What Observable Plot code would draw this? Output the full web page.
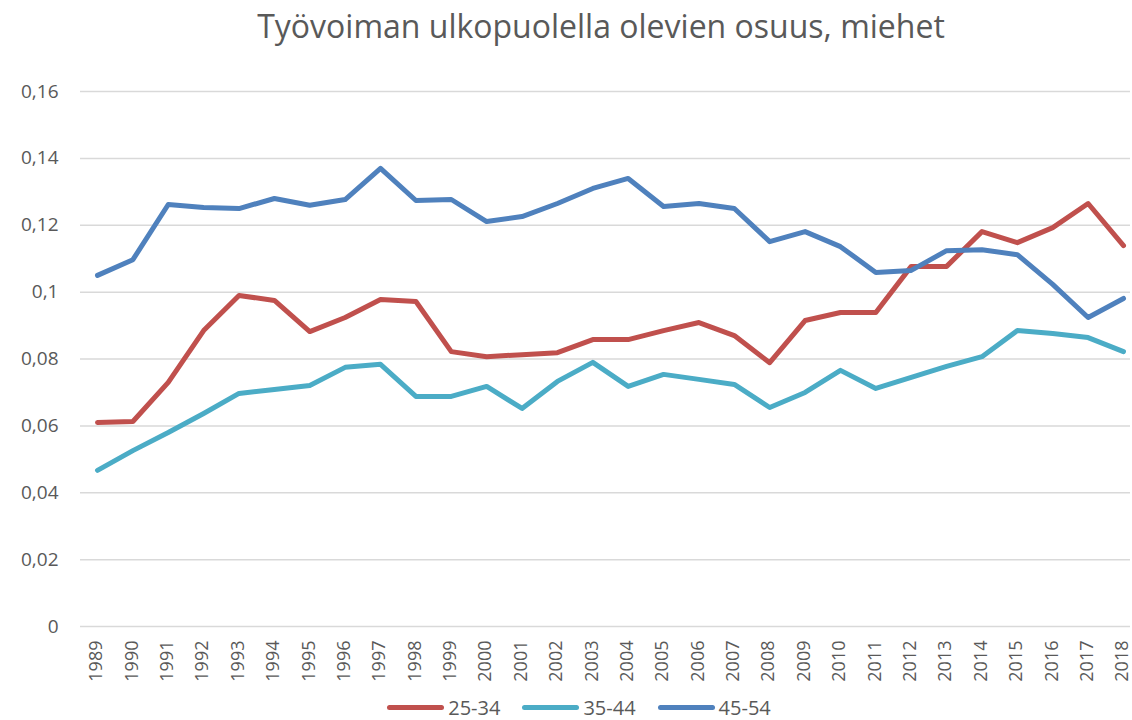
<!DOCTYPE html>
<html>
<head>
<meta charset="utf-8">
<script src="https://cdn.jsdelivr.net/npm/d3@7"></script>
<script src="https://cdn.jsdelivr.net/npm/@observablehq/plot@0.6"></script>
<style>
  body { margin: 0; background: #fff; font-family: "Open Sans", "Liberation Sans", sans-serif; }
  #wrap { width: 1132px; height: 720px; position: relative; overflow: hidden; }
  #title { height: 55px; line-height: 52px; padding-left: 70px; text-align: center; font-size: 32px; color: #595959; }
  #legend { display: flex; justify-content: center; align-items: center; padding-left: 26px; height: 24px; margin-top: 0px; font-size: 20px; color: #595959; }
  .item { display: flex; align-items: center; margin: 0 11px; }
  .sw { width: 57px; height: 5px; border-radius: 3px; margin-right: 4px; }
</style>
</head>
<body>
<div id="wrap">
  <div id="title">Työvoiman ulkopuolella olevien osuus, miehet</div>
  <div id="chart"></div>
  <div id="legend"></div>
</div>
<script>
const years = [1989,1990,1991,1992,1993,1994,1995,1996,1997,1998,1999,2000,2001,2002,2003,2004,2005,2006,2007,2008,2009,2010,2011,2012,2013,2014,2015,2016,2017,2018];
const seriesNames = ["25-34", "35-44", "45-54"];
const seriesColors = ["#C0504D", "#4BACC6", "#4F81BD"];
const s25_34 = [0.0610,0.0613,0.0730,0.0885,0.0990,0.0975,0.0882,0.0924,0.0978,0.0972,0.0822,0.0807,0.0813,0.0819,0.0858,0.0858,0.0885,0.0909,0.0870,0.0789,0.0915,0.0939,0.0939,0.1077,0.1077,0.1181,0.1148,0.1193,0.1265,0.1139];
const s35_44 = [0.0467,0.0526,0.0580,0.0637,0.0697,0.0709,0.0721,0.0775,0.0784,0.0688,0.0688,0.0718,0.0652,0.0733,0.0790,0.0718,0.0754,0.0739,0.0724,0.0655,0.0700,0.0766,0.0712,0.0745,0.0778,0.0807,0.0885,0.0876,0.0864,0.0822];
const s45_54 = [0.1050,0.1097,0.1262,0.1253,0.1250,0.1280,0.1260,0.1277,0.1370,0.1274,0.1277,0.1211,0.1226,0.1265,0.1310,0.1340,0.1256,0.1265,0.1250,0.1151,0.1181,0.1136,0.1059,0.1065,0.1124,0.1127,0.1112,0.1023,0.0924,0.0981];
const yTicks = [0,0.02,0.04,0.06,0.08,0.1,0.12,0.14,0.16];

const allSeries = [s25_34, s35_44, s45_54];
const data = [];
seriesNames.forEach((name, i) => {
  years.forEach((yr, j) => data.push({year: yr, value: allSeries[i][j], series: name}));
});

const fmt = d => String(+d.toFixed(2)).replace(".", ",");

const chart = Plot.plot({
  width: 1132,
  height: 640,
  marginTop: 36,
  marginBottom: 69,
  marginLeft: 80,
  marginRight: 2,
  style: { fontFamily: "'Open Sans', 'Liberation Sans', sans-serif", color: "#595959", background: "#fff" },
  x: { type: "linear", domain: [1989, 2018], insetLeft: 17, insetRight: 7 },
  y: { domain: [0, 0.16] },
  color: { domain: seriesNames, range: seriesColors },
  marks: [
    Plot.gridY(yTicks, { stroke: "#d9d9d9", strokeOpacity: 1, strokeWidth: 1.5 }),
    Plot.axisY(yTicks, { tickSize: 0, tickPadding: 22, tickFormat: fmt, fontSize: 19, fill: "#595959", label: null }),
    Plot.axisX(years, { tickSize: 0, tickPadding: 14, tickRotate: -90, tickFormat: d => String(d), fontSize: 18, fill: "#595959", label: null, dx: -1 }),
    Plot.line(data, { x: "year", y: "value", z: "series", stroke: "series", strokeWidth: 5, strokeLinejoin: "round", strokeLinecap: "round" })
  ]
});
document.getElementById("chart").appendChild(chart);

const legend = document.getElementById("legend");
seriesNames.forEach((name, i) => {
  const item = document.createElement("div");
  item.className = "item";
  const sw = document.createElement("div");
  sw.className = "sw";
  sw.style.background = seriesColors[i];
  const label = document.createElement("span");
  label.textContent = name;
  item.appendChild(sw);
  item.appendChild(label);
  legend.appendChild(item);
});
</script>
</body>
</html>
